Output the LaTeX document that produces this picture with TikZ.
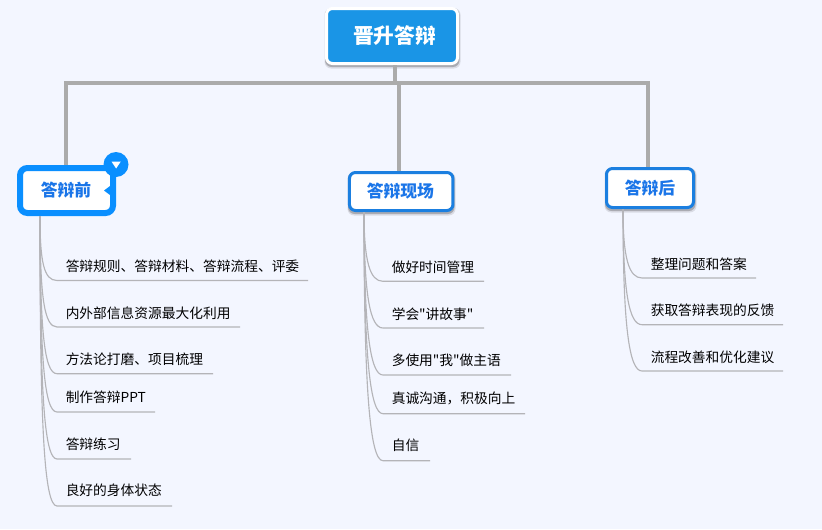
\documentclass[tikz,border=0pt]{standalone}
\usepackage{fontspec}
\setmainfont{Noto Sans CJK SC}
% Same family without TeX ligatures, so that " stays a straight quote
\newfontfamily\straightfont{Noto Sans CJK SC}
\usetikzlibrary{calc}
\definecolor{pagebg}{HTML}{F3F6FF}
\definecolor{rootblue}{HTML}{1A95E6}
\definecolor{heavyblue}{HTML}{0A8FFF}
\definecolor{edgeblue}{HTML}{1B7FE0}
\definecolor{labelblue}{HTML}{1A75E8}
\definecolor{trunkgray}{HTML}{ABABAB}
\definecolor{leafgray}{HTML}{B4B4B8}
\tikzset{
  x=0.75pt, y=-0.75pt,
  rootbox/.style={rectangle,rounded corners=4.5pt,draw=white,line width=2.25pt,fill=rootblue,
    text=white,inner sep=0pt,minimum width=98.25pt,minimum height=41.25pt,
    font=\fontsize{15.5}{18}\selectfont\bfseries},
  topicbox/.style={rectangle,rounded corners=4.5pt,draw=edgeblue,line width=2.25pt,fill=white,
    text=labelblue,inner sep=0pt,font=\fontsize{12.6}{15}\selectfont\bfseries},
  heavybox/.style={topicbox,draw=heavyblue,line width=4.5pt,rounded corners=5.5pt},
  leaftext/.style={anchor=west,inner sep=0pt,text=black,font=\fontsize{10.3}{12}\selectfont},
  trunk/.style={draw=trunkgray,line width=3pt},
  leafline/.style={draw=leafgray,line width=0.85pt},
}
% Soft shadow under a box: two stacked translucent rounded rectangles
\newcommand{\softshade}[4]{%
  \fill[black,opacity=.10,rounded corners=5pt] (#1-0.5,#2+1) rectangle (#3+1.5,#4+3.5);
  \fill[black,opacity=.22,rounded corners=5pt] (#1,#2+1) rectangle (#3+0.5,#4+2);
}
% One leaf: a curve out of the topic's stem, an underline, and the label above it.
% #1 name, #2 stem coordinate, #3 bend x, #4 underline y, #5 underline end x, #6 label y, #7 label
\newcommand{\leaf}[7]{%
  \coordinate (#1-bend) at (#3,#4);
  \coordinate (#1-end) at (#5,#4);
  \node[leaftext] (#1) at (#3+8.5,#6) {#7};
  \draw[leafline] (#2) .. controls ($(#2)!0.72!(#2 |- #1-bend)$) and ($(#1-bend)+(-13,0)$) .. (#1-bend) -- (#1-end);
}
\begin{document}
\begin{tikzpicture}
\useasboundingbox (0,0) rectangle (822,529);
\fill[pagebg] (0,0) rectangle (822,529);

% Shadows go down first, boxes sit on top
\softshade{325}{7}{459}{65}
\softshade{348}{171}{454}{212}
\softshade{605}{167}{695}{209}

% Root and the three topics
\node[rootbox] (root) at (392,36) {\hspace*{3.75pt}晋升答辩};
\node[heavybox,minimum width=69.75pt,minimum height=33.75pt] (before) at (66.5,190.5) {答辩前\hspace*{0.75pt}};
\node[topicbox,minimum width=77.6pt,minimum height=28.5pt] (live) at (401.2,191.5) {答辩现场\hspace*{1.2pt}};
\node[topicbox,minimum width=65.25pt,minimum height=29.25pt] (after) at (650,188) {答辩后};

% Orthogonal trunk lines
\coordinate (bus) at (395,82.5);
\coordinate (busl) at (65.5,82.5);
\coordinate (busm) at (399,82.5);
\coordinate (busr) at (648,82.5);
\draw[trunk] (root.south -| bus) -- (bus);
\draw[trunk,line cap=rect] (busl) -- (busr);
\draw[trunk] (busl) -- (before.north -| busl);
\draw[trunk] (busm) -- (live.north -| busm);
\draw[trunk] (busr) -- (after.north -| busr);

% Collapse badge and notch on the selected topic
\fill[heavyblue] (110,186) -- (104,190.5) -- (110,195) -- cycle;
\node[circle,fill=heavyblue,inner sep=0pt,minimum size=18.75pt] (badge) at (116,164.5) {};
\fill[white] (111.5,161.5) -- (120.8,161.5) -- (116.1,168.5) -- cycle;

% Leaves of each topic
\coordinate (s1) at (before.south -| 40,0);
\coordinate (s2) at (live.south -| 364,0);
\coordinate (s3) at (after.south -| 623,0);

\leaf{a1}{s1}{57}{280.5}{308}{266.5}{答辩规则、答辩材料、答辩流程、评委}
\leaf{a2}{s1}{57}{327}{240}{313}{内外部信息资源最大化利用}
\leaf{a3}{s1}{57}{373.7}{213}{359}{方法论打磨、项目梳理}
\leaf{a4}{s1}{57}{412}{155}{397}{制作答辩PPT}
\leaf{a5}{s1}{57}{459}{131}{444}{答辩练习}
\leaf{a6}{s1}{57}{506}{172}{490.5}{良好的身体状态}

\leaf{b1}{s2}{383}{281.3}{484}{267}{做好时间管理}
\leaf{b2}{s2}{383}{328}{484}{314}{\straightfont 学会"讲故事"}
\leaf{b3}{s2}{383}{375}{511}{360}{\straightfont 多使用"我"做主语}
\leaf{b4}{s2}{383}{413.7}{525}{398}{真诚沟通，积极向上}
\leaf{b5}{s2}{383}{460.7}{430}{445}{自信}

\leaf{c1}{s3}{642}{278}{756}{264}{整理问题和答案}
\leaf{c2}{s3}{642}{324.7}{783}{310}{获取答辩表现的反馈}
\leaf{c3}{s3}{642}{371}{783}{357.5}{流程改善和优化建议}
\end{tikzpicture}
\end{document}
